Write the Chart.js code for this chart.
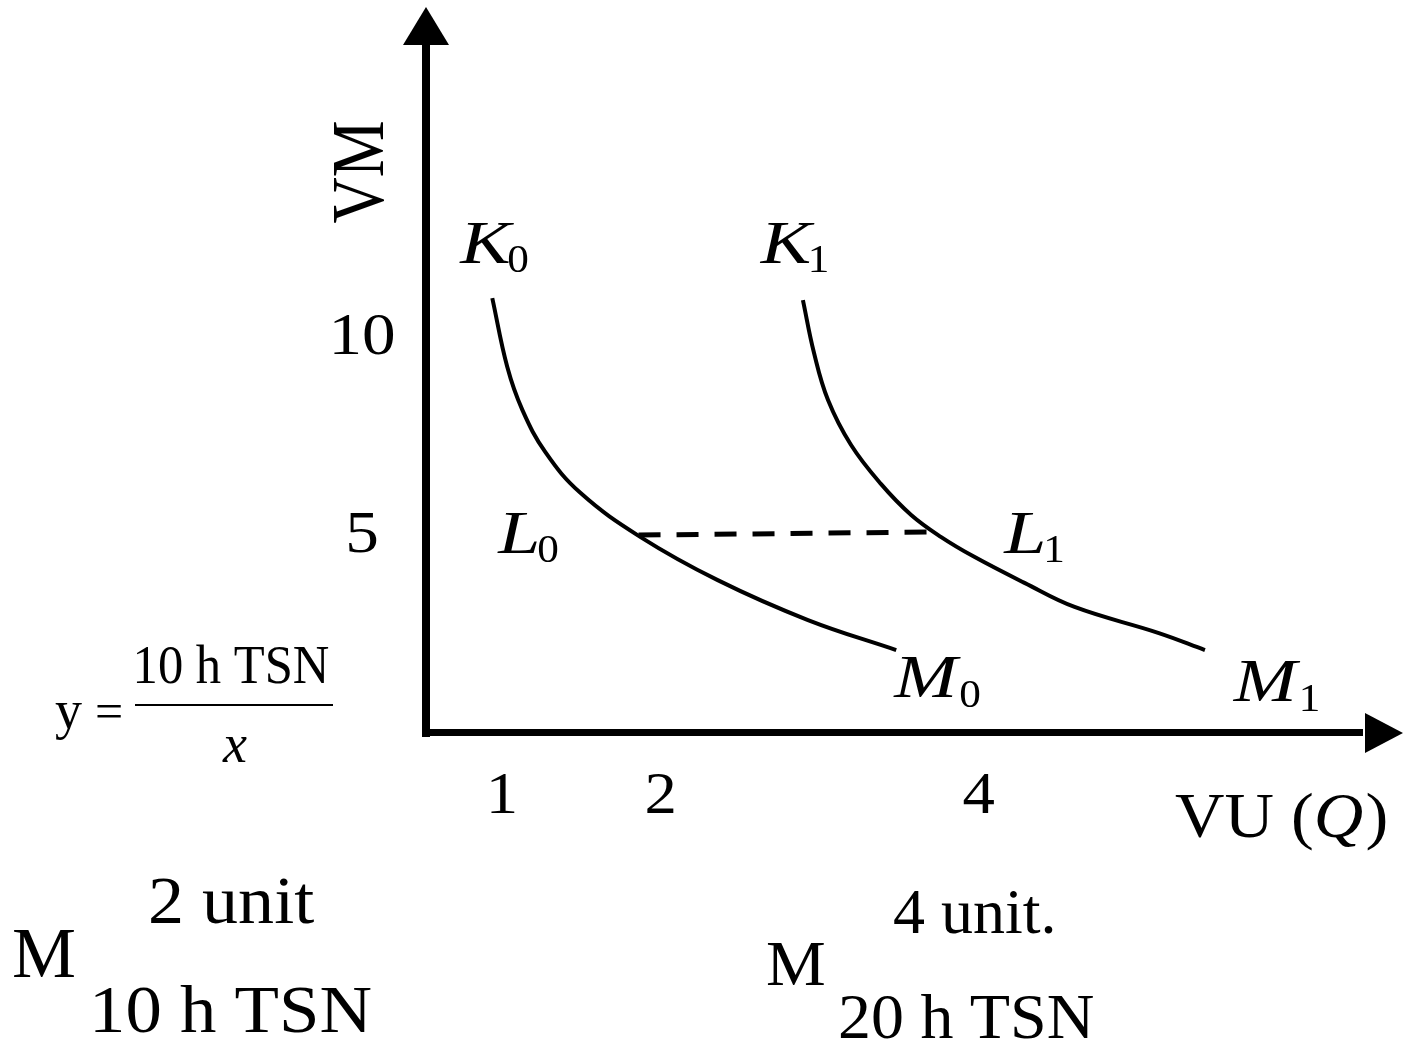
<!DOCTYPE html>
<html>
<head>
<meta charset="utf-8">
<script src="https://cdn.jsdelivr.net/npm/chart.js@4"></script>
<style>
  html, body { margin: 0; padding: 0; background: #fff; }
  canvas { display: block; }
</style>
</head>
<body>
<canvas id="grafico" width="1403" height="1043"></canvas>
<script>
// curve K0 - L0 - M0 (10 h TSN)
const curva0X = [0.921, 1.015, 1.110, 1.255, 1.475, 1.854, 2.339, 2.907, 3.462];
const curva0Y = [11.01, 9.27, 8.18, 7.11, 6.08, 4.96, 3.87, 2.86, 2.10];
// curve K1 - L1 - M1 (20 h TSN)
const curva1X = [2.875, 2.945, 3.033, 3.178, 3.367, 3.556, 3.745, 3.953, 4.269, 4.584, 5.114, 5.404];
const curva1Y = [10.96, 9.62, 8.43, 7.29, 6.30, 5.52, 4.96, 4.46, 3.80, 3.19, 2.53, 2.10];
// dashed link L0 -> L1
const tracoX = [1.841, 3.701];
const tracoY = [5.01, 5.09];

const ticksX = [1, 2, 4];
const rotulosX = ['1', '2', '4'];
const ticksY = [5, 10];
const rotulosY = ['5', '10'];

// point names and where they sit (data units)
const nomes = ['K', 'K', 'L', 'L', 'M', 'M'];
const indices = ['0', '1', '0', '1', '0', '1'];
const nomesX = [0.719, 2.610, 0.958, 4.142, 3.449, 5.586];
const nomesY = [11.90, 11.90, 4.56, 4.56, 0.91, 0.81];

const SERIF = '"Liberation Serif", "Times New Roman", serif';

function pontos(xs, ys) {
  return xs.map((x, i) => ({x: x, y: ys[i]}));
}

function texto(ctx, str, x, y, font, opts) {
  opts = opts || {};
  ctx.save();
  ctx.font = font;
  ctx.fillStyle = '#000';
  ctx.textAlign = opts.align || 'left';
  ctx.textBaseline = 'alphabetic';
  ctx.translate(x, y);
  if (opts.rot) ctx.rotate(opts.rot);
  ctx.scale(opts.sx || 1, opts.sy || 1);
  ctx.fillText(str, 0, 0);
  ctx.restore();
}

const eixos = {
  id: 'eixos',
  afterDraw(chart) {
    const ctx = chart.ctx;
    const a = chart.chartArea;
    const sx = chart.scales.x, sy = chart.scales.y;
    ctx.save();
    ctx.fillStyle = '#000';
    // y axis + arrow
    ctx.fillRect(a.left - 4, 42, 8, a.bottom - 42 + 4);
    ctx.beginPath();
    ctx.moveTo(a.left, a.top);
    ctx.lineTo(a.left - 23, 45);
    ctx.lineTo(a.left + 23, 45);
    ctx.closePath();
    ctx.fill();
    // x axis + arrow
    ctx.fillRect(a.left - 4, a.bottom - 4, 1367 - a.left, 7);
    ctx.beginPath();
    ctx.moveTo(a.right, a.bottom);
    ctx.lineTo(1365, a.bottom - 20);
    ctx.lineTo(1365, a.bottom + 20);
    ctx.closePath();
    ctx.fill();
    ctx.restore();

    // tick labels
    ticksY.forEach((v, i) => {
      texto(ctx, rotulosY[i], 362, sy.getPixelForValue(v) + 16, '60px ' + SERIF, {align: 'center', sx: 1.12});
    });
    ticksX.forEach((v, i) => {
      texto(ctx, rotulosX[i], sx.getPixelForValue(v) - 3, 813, '60px ' + SERIF, {align: 'center', sx: 1.08});
    });

    // axis titles
    texto(ctx, 'VM', 383, 172, '64px ' + SERIF, {align: 'center', rot: -Math.PI / 2, sy: 1.15});
    ctx.save();
    ctx.translate(1175, 837);
    ctx.scale(1.07, 1);
    texto(ctx, 'VU (', 0, 0, '64px ' + SERIF);
    ctx.font = '64px ' + SERIF;
    const w1 = ctx.measureText('VU (').width;
    texto(ctx, 'Q', w1, 0, 'italic 64px ' + SERIF);
    ctx.font = 'italic 64px ' + SERIF;
    const w2 = ctx.measureText('Q').width;
    texto(ctx, ')', w1 + w2 + 2, 0, '64px ' + SERIF);
    ctx.restore();

    // point names with subscripts
    const desloc = {K: [47, 9], L: [39, 9], M: [65, 10]};
    nomes.forEach((n, i) => {
      const px = sx.getPixelForValue(nomesX[i]);
      const py = sy.getPixelForValue(nomesY[i]);
      texto(ctx, n, px, py, 'italic 62px ' + SERIF, {sx: 1.22});
      texto(ctx, indices[i], px + desloc[n][0], py + desloc[n][1], '40px ' + SERIF, {sx: 1.08});
    });

    // formula y = 10 h TSN / x
    texto(ctx, 'y', 55, 728, '54px ' + SERIF);
    texto(ctx, '=', 95, 728, '50px ' + SERIF);
    texto(ctx, '10 h TSN', 231, 683, '55px ' + SERIF, {align: 'center', sx: 0.92});
    ctx.fillRect(135, 704, 198, 2);
    texto(ctx, 'x', 235, 762, 'italic 54px ' + SERIF, {align: 'center'});

    // notes below the chart
    texto(ctx, '2 unit', 148, 923, '68px ' + SERIF, {sx: 1.06});
    texto(ctx, 'M', 12, 977, '72px ' + SERIF);
    texto(ctx, '10 h TSN', 89, 1032, '68px ' + SERIF, {sx: 1.07});
    texto(ctx, '4 unit.', 893, 933, '64px ' + SERIF);
    texto(ctx, 'M', 766, 985, '64px ' + SERIF, {sx: 1.05});
    texto(ctx, '20 h TSN', 838, 1038, '64px ' + SERIF, {sx: 1.03});
  }
};

const ctxGrafico = document.getElementById('grafico').getContext('2d');
new Chart(ctxGrafico, {
  type: 'line',
  data: {
    datasets: [
      {label: 'K0L0M0', data: pontos(curva0X, curva0Y), borderColor: '#000', borderWidth: 4,
       pointRadius: 0, tension: 0.4, fill: false},
      {label: 'K1L1M1', data: pontos(curva1X, curva1Y), borderColor: '#000', borderWidth: 4,
       pointRadius: 0, tension: 0.4, fill: false},
      {label: 'L0L1', data: pontos(tracoX, tracoY), borderColor: '#000', borderWidth: 5,
       borderDash: [22, 16], pointRadius: 0, fill: false}
    ]
  },
  options: {
    responsive: false,
    animation: false,
    devicePixelRatio: 1,
    layout: {padding: {left: 426, right: 0, top: 7, bottom: 310}},
    scales: {
      x: {type: 'linear', display: false, min: 0.504, max: 6.65},
      y: {type: 'linear', display: false, min: 0, max: 18.38}
    },
    plugins: {
      legend: {display: false},
      tooltip: {enabled: false}
    }
  },
  plugins: [eixos]
});
</script>
</body>
</html>
